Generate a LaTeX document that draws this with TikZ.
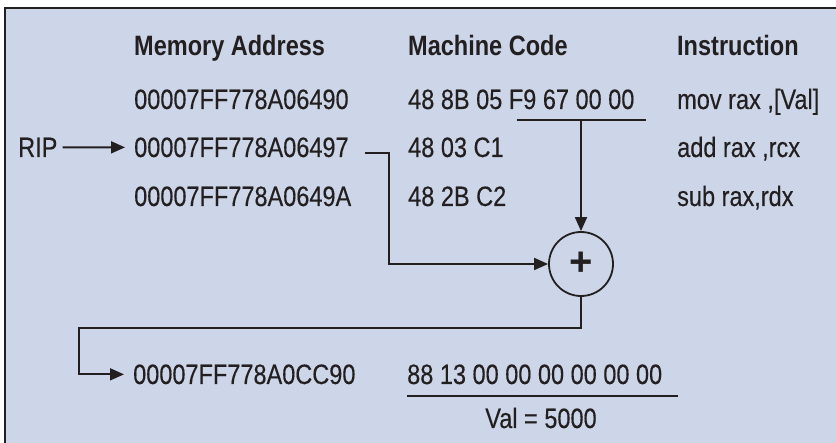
\documentclass[tikz,border=0pt]{standalone}
\usepackage{fontspec}
\setmainfont{Liberation Sans}[FakeStretch=0.84, UprightFeatures={FakeBold=0.3}]
\newfontfamily\plusfont{Liberation Sans}
\usetikzlibrary{arrows.meta,calc}
\definecolor{bg}{HTML}{CCD6E8}
\definecolor{ink}{HTML}{231F20}
\begin{document}
\begin{tikzpicture}[x=1pt,y=-1pt,
  txt/.style={anchor=base west, inner sep=0pt, text=ink, font=\fontsize{28}{30}\selectfont},
  hdr/.style={txt, font=\fontsize{28}{30}\selectfont\bfseries},
  conn/.style={line width=1.8pt, draw=ink},
  arr/.style={conn, -{Triangle[length=14pt,width=12pt]}}]
\useasboundingbox (0,0) rectangle (836,443);
\begin{scope}
  \clip (0,0) rectangle (836,443);
  \draw[fill=bg, line width=2.4pt, draw=ink] (5,8) rectangle (850,460);
\end{scope}
% headers
\node[hdr] (hA) at (134,56) {Memory Address};
\node[hdr] (hM) at (408,56) {Machine Code};
\node[hdr] (hI) at (677,56) {Instruction};
% rows
\node[txt] (a1) at (134,109) {00007FF778A06490};
\node[txt] (c1) at (408,109) {48 8B 05 F9 67 00 00};
\node[txt] (i1) at (677,109) {mov rax ,[Val]};
\node[txt] (rip) at (18,157) {RIP};
\node[txt] (a2) at (134,157) {00007FF778A06497};
\node[txt] (c2) at (408,157) {48 03 C1};
\node[txt] (i2) at (677,157) {add rax ,rcx};
\node[txt] (a3) at (134,206) {00007FF778A0649A};
\node[txt] (c3) at (408,206) {48 2B C2};
\node[txt] (i3) at (677,206) {sub rax,rdx};
\node[txt] (a4) at (133,384) {00007FF778A0CC90};
\node[txt] (c4) at (407,384) {88 13 00 00 00 00 00 00};
\node[txt, anchor=base] (val) at (541,428) {Val = 5000};
% adder
\node[circle, draw=ink, line width=1.8pt, minimum size=64pt, inner sep=0pt, text=ink] (plus) at (581,264) {\plusfont\bfseries\fontsize{40}{40}\selectfont +};
% underline of displacement
\coordinate (u1) at (517,120);
\coordinate (u2) at (646,120);
\draw[conn] (u1) -- (u2);
\draw[arr] (plus.north |- u1) -- (plus.north);
% RIP arrow
\draw[arr] ([xshift=5pt]rip.east) -- ([xshift=-9pt]a2.west);
% next RIP to adder
\coordinate (s1) at (365,153);
\coordinate (s2) at (389,153);
\draw[arr] (s1) -- (s2) |- (plus.west);
% adder to target
\coordinate (b1) at (79,328);
\draw[arr] (plus.south) |- (b1) |- ([xshift=-9pt]a4.west);
% value underline
\coordinate (v1) at (407,396);
\coordinate (v2) at (678,396);
\draw[conn] (v1) -- (v2);
\end{tikzpicture}
\end{document}
